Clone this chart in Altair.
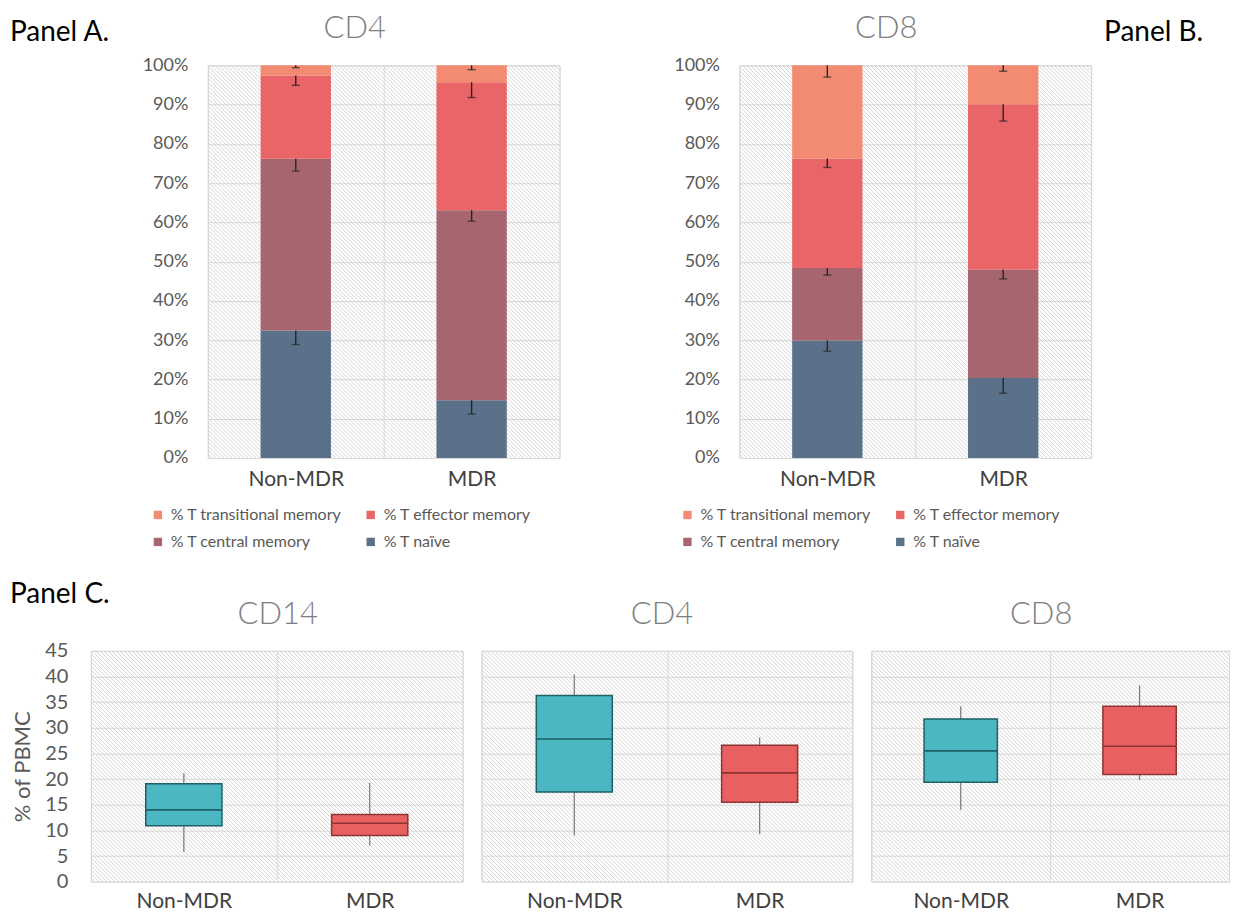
import altair as alt
import pandas as pd

FONT = "Lato"

# ---------------- data ----------------
groups = ["Non-MDR", "MDR"]
legend_order = ["% T transitional memory", "% T effector memory",
                "% T central memory", "% T naïve"]
subset_colors = ["#F38B73", "#E96567", "#A6656F", "#5B7189"]
stack_order = ["% T naïve", "% T central memory",
               "% T effector memory", "% T transitional memory"]

# segment sizes (bottom -> top), percent
cd4_nonmdr = [32.5, 43.7, 21.2, 2.6]
cd4_mdr = [14.7, 48.4, 32.6, 4.3]
cd4_err_nonmdr = [3.6, 3.1, 2.5, 0.6]
cd4_err_mdr = [3.5, 2.8, 3.9, 1.1]

cd8_nonmdr = [29.9, 18.5, 27.9, 23.7]
cd8_mdr = [20.4, 27.6, 42.1, 9.9]
cd8_err_nonmdr = [2.7, 1.8, 2.3, 3.0]
cd8_err_mdr = [3.9, 2.4, 4.3, 1.5]

pct_ticks = list(range(0, 101, 10))

# box plot statistics: [Non-MDR, MDR]
cd14_min = [5.8, 7.0]
cd14_q1 = [10.9, 9.0]
cd14_med = [14.0, 11.4]
cd14_q3 = [19.1, 13.1]
cd14_max = [21.2, 19.3]

cd4b_min = [9.0, 9.3]
cd4b_q1 = [17.5, 15.5]
cd4b_med = [27.8, 21.2]
cd4b_q3 = [36.3, 26.6]
cd4b_max = [40.4, 28.1]

cd8b_min = [14.0, 19.8]
cd8b_q1 = [19.4, 20.9]
cd8b_med = [25.5, 26.4]
cd8b_q3 = [31.7, 34.2]
cd8b_max = [34.2, 38.3]

pbmc_ticks = list(range(0, 46, 5))

box_fill = ["#4BB7C3", "#E8605F"]
box_edge = ["#1F5F66", "#8E3434"]

GRID = "#d9d9d9"


def stack_table(nm, m, enm, em):
    rows = []
    for g, vals, errs in ((groups[0], nm, enm), (groups[1], m, em)):
        cum = 0.0
        for s, v, e in zip(stack_order, vals, errs):
            rows.append({"group": g, "subset": s, "lo": cum, "hi": cum + v,
                         "err": cum + v - e})
            cum += v
    return pd.DataFrame(rows)


def hatch(W, H, step=4):
    return alt.Chart(alt.sequence(start=-H, stop=W, step=step, as_="s")).transform_calculate(
        hx1="datum.s", hx2=f"datum.s + {H}", hy1=f"{H}", hy2="0"
    ).mark_rule(color="#d4d4d4", strokeWidth=1, clip=True).encode(
        x=alt.X("hx1:Q", scale=alt.Scale(domain=[0, W], nice=False, zero=False), axis=None),
        x2="hx2:Q",
        y=alt.Y("hy1:Q", scale=alt.Scale(domain=[0, H], nice=False, zero=False), axis=None),
        y2="hy2:Q",
    )


def x_enc(pad_label):
    return alt.X("group:N", sort=groups,
                 scale=alt.Scale(domain=groups, paddingInner=0, paddingOuter=0),
                 axis=alt.Axis(title=None, labelAngle=0, labelFont=FONT, labelFontSize=21,
                               labelColor="#404040", labelPadding=pad_label, ticks=False,
                               tickSize=0, domain=False, grid=True, gridColor=GRID,
                               tickBand="extent"))


def y_pct(field):
    return alt.Y(field, scale=alt.Scale(domain=[0, 100], nice=False),
                 axis=alt.Axis(title=None, values=pct_ticks, labelExpr="datum.value + '%'",
                               labelFont=FONT, labelFontSize=18, labelColor="#595959",
                               labelPadding=20, ticks=False, tickSize=0, domain=False,
                               grid=True, gridColor=GRID))


def title_params(text, dx, offset):
    return alt.TitleParams(text, font=FONT, fontSize=31, fontWeight=300, color="#7f7f7f",
                           frame="group", anchor="middle", baseline="alphabetic",
                           offset=offset, dx=dx)


def stack_panel(df, title, W, H, lx, ly, title_dx):
    base = alt.Chart(df)
    bars = base.mark_bar(width={"band": 0.4}).encode(
        x=x_enc(11), y=y_pct("lo:Q"), y2="hi:Q",
        color=alt.Color("subset:N", scale=alt.Scale(domain=legend_order, range=subset_colors),
                        legend=alt.Legend(title=None, orient="none", legendX=lx, legendY=ly,
                                          direction="horizontal", columns=2,
                                          symbolType="square", symbolSize=70,
                                          symbolStrokeWidth=0, labelFont=FONT,
                                          labelFontSize=16, labelColor="#595959",
                                          labelLimit=400, columnPadding=20, rowPadding=11,
                                          labelOffset=5, padding=0)),
    )
    errs = base.mark_rule(color="#262626", strokeWidth=1.4).encode(
        x=x_enc(11), y=y_pct("err:Q"), y2="hi:Q")
    caps = base.mark_tick(color="#262626", size=8, thickness=1.4, orient="horizontal").encode(
        x=x_enc(11), y=y_pct("err:Q"))
    inner = alt.layer(bars, errs, caps)
    return alt.layer(hatch(W, H), inner).resolve_scale(x="independent", y="independent").properties(
        width=W, height=H, title=title_params(title, title_dx, -13))


def panel_labels(texts, xs, ys):
    return alt.Chart(pd.DataFrame({"label": texts, "px": xs, "py": ys})).mark_text(
        align="left", baseline="alphabetic", font=FONT, fontSize=28, color="#000000"
    ).encode(text="label:N",
             x=alt.X("px:Q", scale=None, axis=None),
             y=alt.Y("py:Q", scale=None, axis=None))


def box_panel(mins, q1s, meds, q3s, maxs, title, W, H, show_y, title_dx, title_off):
    df = pd.DataFrame({"group": groups, "mn": mins, "q1": q1s, "med": meds,
                       "q3": q3s, "mx": maxs})
    if show_y:
        yaxis = alt.Axis(title="% of PBMC", values=pbmc_ticks, labelFont=FONT, labelFontSize=20,
                         labelColor="#595959", labelPadding=23, ticks=False, tickSize=0,
                         domain=False, grid=True, gridColor=GRID, titleFont=FONT,
                         titleFontSize=22, titleFontWeight="normal", titleColor="#595959",
                         titlePadding=10)
    else:
        yaxis = alt.Axis(title=None, values=pbmc_ticks, labels=False, ticks=False, tickSize=0,
                         domain=False, grid=True, gridColor=GRID)

    def yb(field):
        return alt.Y(field, scale=alt.Scale(domain=[0, 45], nice=False), axis=yaxis)

    fill = alt.Color("group:N", scale=alt.Scale(domain=groups, range=box_fill), legend=None)
    edge = alt.Stroke("group:N", scale=alt.Scale(domain=groups, range=box_edge), legend=None)
    base = alt.Chart(df)
    whisk = base.mark_rule(color="#808080", strokeWidth=1.3).encode(
        x=x_enc(9), y=yb("mn:Q"), y2="mx:Q")
    box = base.mark_bar(width={"band": 0.41}, strokeWidth=1.5).encode(
        x=x_enc(9), y=yb("q1:Q"), y2="q3:Q", color=fill, stroke=edge)
    med = base.mark_bar(width={"band": 0.41}, strokeWidth=1.6, fillOpacity=0).encode(
        x=x_enc(9), y=yb("med:Q"), y2="med:Q", stroke=edge)
    inner = alt.layer(whisk, box, med)
    return alt.layer(hatch(W, H), inner).resolve_scale(x="independent", y="independent").properties(
        width=W, height=H, title=title_params(title, title_dx, title_off))


df_cd4 = stack_table(cd4_nonmdr, cd4_mdr, cd4_err_nonmdr, cd4_err_mdr)
df_cd8 = stack_table(cd8_nonmdr, cd8_mdr, cd8_err_nonmdr, cd8_err_mdr)

WA, HA = 352, 393
panelA = stack_panel(df_cd4, "CD4", WA, HA, -58, 442, -29)
panelB = stack_panel(df_cd8, "CD8", WA, HA, -60, 442, -29)

# label holder to the left of panel A (its origin sits at page x = 27)
spacer_top = panel_labels(["Panel A.", "Panel B."], [-17, 1078], [-24, -24]).properties(
    width=1, height=HA, view=alt.ViewBackground(strokeOpacity=0))

top_row = alt.hconcat(spacer_top, panelA, panelB, spacing=180, bounds="flush").resolve_scale(
    color="independent").resolve_legend(color="independent")

HC = 231
# label holder to the left of CD14 (same origin as the top one)
spacer_bot = panel_labels(["Panel C."], [-17], [-48]).properties(
    width=45, height=HC, view=alt.ViewBackground(strokeOpacity=0))
c1 = box_panel(cd14_min, cd14_q1, cd14_med, cd14_q3, cd14_max, "CD14", 372, HC, True, 1, -14)
c2 = box_panel(cd4b_min, cd4b_q1, cd4b_med, cd4b_q3, cd4b_max, "CD4", 371, HC, False, -5, -4)
c3 = box_panel(cd8b_min, cd8b_q1, cd8b_med, cd8b_q3, cd8b_max, "CD8", 358, HC, False, -9, -4)
bottom_row = alt.hconcat(spacer_bot, c1, c2, c3, spacing=19, bounds="flush")

chart = alt.vconcat(top_row, bottom_row, spacing=30).properties(
    padding={"left": 2, "top": 4, "right": 0, "bottom": 0}
).configure(font=FONT).configure_view(stroke=GRID)

chart.save("out.html", embed_options={"renderer": "svg", "actions": False})
